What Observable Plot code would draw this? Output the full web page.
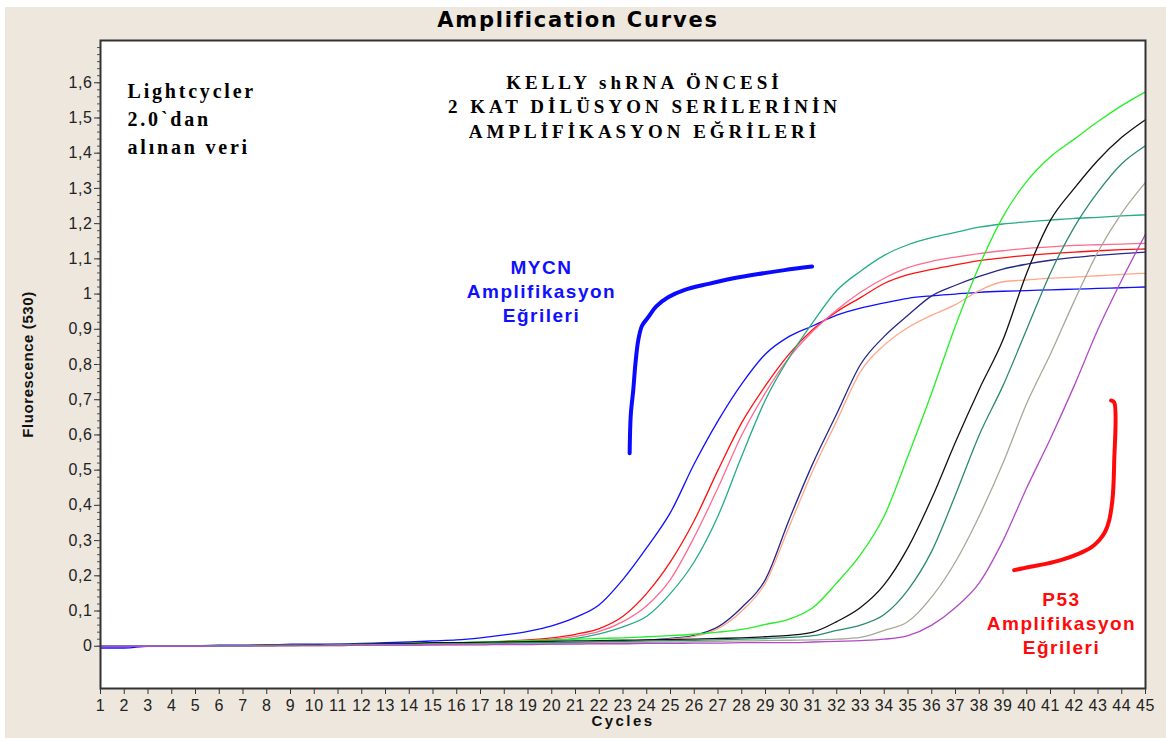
<!DOCTYPE html>
<html>
<head>
<meta charset="utf-8">
<script src="https://cdn.jsdelivr.net/npm/d3@7"></script>
<script src="https://cdn.jsdelivr.net/npm/@observablehq/plot@0.6"></script>
<style>
  html, body { margin: 0; padding: 0; background: #ffffff; }
  #wrap { position: relative; width: 1166px; height: 738px; overflow: hidden; }
  #beige { position: absolute; left: 5px; top: 7px; right: 0; bottom: 0; background: #EDE7DD; }
  #chart { position: absolute; left: 0; top: 0; }
</style>
</head>
<body>
<div id="wrap"><div id="beige"></div><div id="chart"></div></div>
<script>
// ---- data ----
const cycles = [1,2,3,4,5,6,7,8,9,10,11,12,13,14,15,16,17,18,19,20,21,22,23,24,25,26,27,28,29,30,31,32,33,34,35,36,37,38,39,40,41,42,43,44,45];

const seriesNames = ["blue","red","pink","teal","navy","salmon","green","black","darkteal","gray","purple"];
const seriesColors = ["#1010ff","#ff1010","#ff6a90","#24ad88","#26268c","#ffa78a","#22f022","#111111","#2a8a70","#a8a898","#b04ac6"];

const blue = [-0.005,-0.005,0,0,0,0.003,0.003,0.003,0.006,0.006,0.006,0.008,0.01,0.012,0.015,0.018,0.024,0.032,0.042,0.058,0.082,0.118,0.19,0.28,0.38,0.518,0.64,0.745,0.83,0.88,0.91,0.94,0.96,0.975,0.988,0.995,1.0,1.005,1.008,1.01,1.012,1.014,1.016,1.018,1.02];
const red = [0,0,0,0,0,0.002,0.002,0.003,0.003,0.004,0.004,0.005,0.006,0.007,0.008,0.009,0.011,0.014,0.018,0.024,0.034,0.05,0.085,0.15,0.24,0.357,0.5,0.635,0.74,0.83,0.9,0.95,0.99,1.03,1.055,1.07,1.083,1.095,1.103,1.11,1.115,1.119,1.123,1.126,1.128];
const pink = [0,0,0,0,0,0.001,0.002,0.002,0.003,0.003,0.004,0.004,0.005,0.006,0.007,0.008,0.01,0.012,0.015,0.02,0.028,0.042,0.07,0.115,0.19,0.31,0.45,0.6,0.72,0.82,0.895,0.955,1.005,1.045,1.075,1.093,1.105,1.115,1.123,1.13,1.134,1.138,1.14,1.142,1.144];
const teal = [0.002,0.002,0.002,0.002,0.002,0.003,0.003,0.003,0.003,0.004,0.004,0.004,0.005,0.005,0.006,0.007,0.008,0.01,0.012,0.016,0.022,0.035,0.055,0.085,0.15,0.24,0.37,0.54,0.7,0.82,0.92,1.01,1.065,1.11,1.14,1.16,1.175,1.19,1.199,1.205,1.21,1.215,1.218,1.222,1.225];
const navy = [0,0,0,0,0,0.001,0.001,0.002,0.002,0.003,0.003,0.004,0.004,0.005,0.005,0.006,0.006,0.007,0.007,0.008,0.01,0.012,0.014,0.017,0.022,0.031,0.055,0.11,0.19,0.36,0.52,0.66,0.8,0.88,0.94,0.995,1.025,1.05,1.071,1.085,1.096,1.104,1.11,1.115,1.119];
const salmon = [0,0,0,0,0,0.001,0.001,0.001,0.002,0.002,0.002,0.003,0.003,0.004,0.004,0.005,0.005,0.006,0.006,0.007,0.008,0.01,0.012,0.015,0.02,0.028,0.05,0.1,0.18,0.34,0.5,0.64,0.78,0.855,0.905,0.94,0.97,1.01,1.035,1.04,1.045,1.048,1.052,1.056,1.059];
const green = [0,0,0,0,0,0.002,0.002,0.003,0.003,0.004,0.004,0.006,0.006,0.008,0.009,0.01,0.012,0.014,0.016,0.018,0.02,0.022,0.024,0.027,0.03,0.034,0.04,0.048,0.062,0.077,0.11,0.18,0.26,0.37,0.54,0.72,0.91,1.08,1.22,1.32,1.39,1.44,1.49,1.535,1.574];
const black = [0,0,0,0,0,0.002,0.002,0.003,0.003,0.004,0.005,0.006,0.007,0.008,0.01,0.01,0.011,0.012,0.013,0.014,0.015,0.016,0.017,0.018,0.019,0.02,0.022,0.024,0.027,0.031,0.04,0.07,0.11,0.175,0.28,0.42,0.58,0.73,0.87,1.06,1.21,1.3,1.38,1.445,1.495];
const darkteal = [0,0,0,0,0,0.001,0.002,0.002,0.003,0.003,0.004,0.004,0.005,0.005,0.006,0.007,0.008,0.009,0.01,0.011,0.012,0.013,0.014,0.015,0.016,0.017,0.018,0.02,0.022,0.025,0.03,0.045,0.06,0.09,0.16,0.27,0.43,0.6,0.74,0.9,1.06,1.19,1.29,1.37,1.421];
const gray = [0,0,0,0,0,0.001,0.001,0.002,0.002,0.002,0.003,0.003,0.004,0.004,0.005,0.005,0.006,0.006,0.007,0.007,0.008,0.009,0.01,0.011,0.012,0.013,0.014,0.015,0.016,0.017,0.018,0.02,0.025,0.045,0.07,0.14,0.24,0.37,0.52,0.69,0.83,0.98,1.12,1.23,1.317];
const purple = [0,0,0,0,0,0.001,0.001,0.001,0.002,0.002,0.002,0.003,0.003,0.003,0.004,0.004,0.004,0.005,0.005,0.006,0.006,0.007,0.007,0.008,0.008,0.009,0.009,0.01,0.01,0.01,0.012,0.014,0.016,0.02,0.03,0.06,0.11,0.18,0.3,0.45,0.59,0.74,0.9,1.04,1.17];

// hand-drawn annotation strokes (cycle, fluorescence)
const mycnMarkCycle = [23.28,23.33,23.43,23.52,23.64,23.8,24.06,24.4,24.9,25.6,26.6,27.6,28.7,29.8,30.96];
const mycnMarkValue = [0.548,0.66,0.726,0.80,0.868,0.91,0.934,0.965,0.991,1.012,1.029,1.044,1.057,1.068,1.078];
const p53MarkCycle = [39.47,40.1,40.8,41.5,42.2,42.7,43.05,43.3,43.47,43.58,43.63,43.68,43.68,43.55];
const p53MarkValue = [0.216,0.225,0.234,0.246,0.263,0.28,0.301,0.325,0.357,0.40,0.433,0.52,0.693,0.698];

const yTicks = [0,0.1,0.2,0.3,0.4,0.5,0.6,0.7,0.8,0.9,1,1.1,1.2,1.3,1.4,1.5,1.6];

// ---- build table ----
const valuesByName = {blue, red, pink, teal, navy, salmon, green, black, darkteal, gray, purple};
const rows = [];
for (const name of seriesNames) {
  valuesByName[name].forEach((v, i) => rows.push({series: name, cycle: cycles[i], value: v}));
}
const mycnMark = mycnMarkCycle.map((c, i) => ({cycle: c, value: mycnMarkValue[i]}));
const p53Mark = p53MarkCycle.map((c, i) => ({cycle: c, value: p53MarkValue[i]}));
const yMinor = d3.range(0, 1.705, 0.02);
const fmtY = d => (d === 0 ? "0" : d === 1 ? "1" : d3.format(".1f")(d).replace(".", ","));

const serif = "'Liberation Serif', 'Times New Roman', serif";
const sans = "'Liberation Sans', Arial, sans-serif";

const chart = Plot.plot({
  width: 1166,
  height: 738,
  marginLeft: 100,
  marginRight: 21,
  marginTop: 40,
  marginBottom: 50,
  style: {background: "transparent", fontFamily: sans, color: "#222"},
  x: {domain: [1, 45]},
  y: {domain: [-0.12, 1.72]},
  color: {domain: seriesNames, range: seriesColors},
  marks: [
    Plot.frame({fill: "white"}),
    Plot.line(rows, {x: "cycle", y: "value", z: "series", stroke: "series", strokeWidth: 1.3, curve: "monotone-x"}),
    Plot.line(mycnMark, {x: "cycle", y: "value", stroke: "#0a0aff", strokeWidth: 4, curve: "catmull-rom"}),
    Plot.line(p53Mark, {x: "cycle", y: "value", stroke: "#ff0a0a", strokeWidth: 4, curve: "catmull-rom"}),
    Plot.axisX({ticks: cycles, tickSize: 6, tickPadding: 5, tickFormat: d => String(d), label: null, stroke: "#333"}),
    Plot.axisY({ticks: yTicks, tickSize: 6, tickPadding: 2, tickFormat: fmtY, label: null, stroke: "#333"}),
    Plot.axisY({ticks: yMinor, tickSize: 3, tickFormat: () => "", label: null, stroke: "#555"}),
    Plot.frame({stroke: "#333", strokeWidth: 2}),
    Plot.text(["Amplification Curves"], {frameAnchor: "top", dx: -45, dy: -20, lineAnchor: "middle", textAnchor: "middle", fontSize: 21, fontWeight: "bold", fill: "#000", fontFamily: "'DejaVu Sans', sans-serif"}),
    Plot.text(["Cycles"], {frameAnchor: "bottom", dy: 33, lineAnchor: "middle", textAnchor: "middle", fontSize: 15, fontWeight: "bold", fill: "#111"}),
    Plot.text(["Fluorescence (530)"], {frameAnchor: "left", dx: -72, rotate: -90, lineAnchor: "middle", textAnchor: "middle", fontSize: 15, fontWeight: "bold", fill: "#111"}),
    Plot.text(["Lightcycler\n2.0`dan\nalınan veri"], {frameAnchor: "top-left", dx: 27, dy: 77, textAnchor: "start", lineAnchor: "middle", lineHeight: 1.4, fontSize: 20, fontWeight: "bold", fill: "#000", fontFamily: serif}),
    Plot.text(["KELLY shRNA ÖNCESİ\n2 KAT DİLÜSYON SERİLERİNİN\nAMPLİFİKASYON EĞRİLERİ"], {frameAnchor: "top-left", dx: 544, dy: 65, textAnchor: "middle", lineAnchor: "middle", lineHeight: 1.3, fontSize: 19, fontWeight: "bold", fill: "#000", fontFamily: serif}),
    Plot.text(["MYCN\nAmplifikasyon\nEğrileri"], {frameAnchor: "top-left", dx: 441, dy: 250, textAnchor: "middle", lineAnchor: "middle", lineHeight: 1.24, fontSize: 19, fontWeight: "bold", fill: "#1010ff"}),
    Plot.text(["P53\nAmplifikasyon\nEğrileri"], {frameAnchor: "top-left", dx: 961, dy: 582, textAnchor: "middle", lineAnchor: "middle", lineHeight: 1.24, fontSize: 19, fontWeight: "bold", fill: "#ff0a0a"})
  ]
});

// ---- typographic touches (letter spacing / tick font size) ----
const sel = d3.select(chart);
const styleText = (test, styles) => {
  sel.selectAll("text")
    .filter(function () { return test(this.textContent); })
    .each(function () { const t = d3.select(this); for (const k in styles) t.style(k, styles[k]); });
};
styleText(s => s.includes("Amplification Curves"), {"letter-spacing": "1.8px"});
styleText(s => s.includes("Lightcycler"), {"letter-spacing": "2.8px"});
styleText(s => s.includes("KELLY"), {"letter-spacing": "4px"});
styleText(s => s.includes("MYCN"), {"letter-spacing": "1.5px"});
styleText(s => s.includes("P53"), {"letter-spacing": "1.5px"});
styleText(s => s.includes("Cycles"), {"letter-spacing": "2.4px"});
styleText(s => s.includes("Fluorescence"), {"letter-spacing": "0.6px"});
styleText(s => /^-?\d+(,\d+)?$/.test(s.trim()), {"font-size": "16px", "letter-spacing": "0.6px", "fill": "#222"});
document.getElementById("chart").appendChild(chart);
</script>
</body>
</html>
